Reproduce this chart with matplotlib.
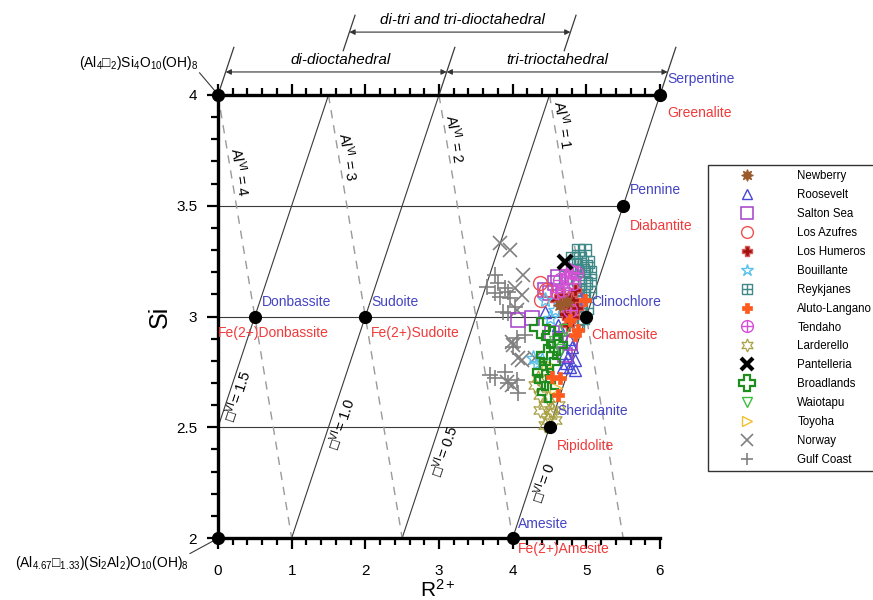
import matplotlib
matplotlib.use('Agg')
import matplotlib.pyplot as plt
from matplotlib.path import Path
from matplotlib.ticker import MultipleLocator

plt.rcParams['font.family'] = ['Liberation Sans', 'DejaVu Sans']
plt.rcParams['mathtext.fontset'] = 'custom'
plt.rcParams['mathtext.rm'] = 'Liberation Sans'
plt.rcParams['mathtext.it'] = 'Liberation Sans:italic'
plt.rcParams['mathtext.bf'] = 'Liberation Sans:bold'

# ---------------- data ----------------
# end-member points (R2+, Si)
em_R = [0, 6, 5.5, 0.5, 2, 5, 4.5, 0, 4]
em_Si = [4, 4, 3.5, 3, 3, 3, 2.5, 2, 2]
em_mg = [None, 'Serpentine', 'Pennine', 'Donbassite', 'Sudoite', 'Clinochlore', 'Sheridanite', None, 'Amesite']
em_fe = [None, 'Greenalite', 'Diabantite', 'Fe(2+)Donbassite', 'Fe(2+)Sudoite', 'Chamosite', 'Ripidolite', None, 'Fe(2+)Amesite']

# vacancy lines (solid)  endpoints R, Si
vac_levels = ['1.5', '1.0', '0.5', '0']
vac_R = [[0, 1.5], [1, 3], [2.5, 4.5], [4, 6]]
vac_Si = [[2.5, 4], [2, 4], [2, 4], [2, 4]]

# AlVI lines (dashed)
al_levels = ['4', '3', '2', '1']
al_R = [[0, 1], [1.5, 2.5], [3, 4], [4.5, 5.5]]
al_Si = [[4, 2], [4, 2], [4, 2], [4, 2]]

# horizontal Si lines
h_Si = [3.5, 3, 2.5]
h_Rmax = [5.5, 5, 4.5]

# scatter series
gulf_R = [3.76, 3.80, 3.89, 3.93, 3.76, 3.96, 3.83, 3.87, 3.93, 4.03, 3.65, 4.06, 4.00, 4.17, 3.76, 3.89, 3.93, 4.06, 4.07, 3.69]
gulf_Si = [3.187, 3.151, 3.129, 3.111, 3.106, 3.083, 3.088, 3.020, 3.016, 3.043, 3.133, 2.903, 2.862, 2.916, 2.722, 2.749, 2.700, 2.713, 2.655, 2.736]
norway_R = [3.83, 3.96, 4.14, 4.03, 4.12, 4.06, 3.99, 4.00, 4.07, 4.12, 4.30, 3.92, 3.99]
norway_Si = [3.332, 3.300, 3.187, 3.129, 3.097, 3.029, 2.885, 2.871, 2.813, 2.804, 2.813, 2.704, 2.691]
reyk_R = [4.885, 4.98, 4.91, 5.02, 4.84, 4.95, 5.05, 4.885, 4.99, 4.84, 4.95, 5.05, 4.91, 5.01, 4.95, 4.885, 5.05, 4.80, 4.71, 4.78, 4.92, 5.00]
reyk_Si = [3.300, 3.300, 3.264, 3.246, 3.233, 3.210, 3.200, 3.165, 3.151, 3.120, 3.097, 3.111, 3.052, 3.038, 2.993, 2.962, 3.165, 3.264, 3.178, 3.074, 3.120, 3.230]
tend_R = [4.80, 4.86, 4.75, 4.64, 4.82, 4.68, 4.78, 4.60, 4.72]
tend_Si = [3.200, 3.196, 3.178, 3.165, 3.151, 3.120, 3.029, 3.110, 3.215]
salton_R = [4.07, 4.26, 4.57, 4.50, 4.68, 4.53, 4.64, 4.78, 4.44, 4.84, 4.71, 4.62]
salton_Si = [2.984, 2.993, 3.151, 3.106, 3.097, 2.925, 2.894, 2.880, 3.120, 3.074, 2.826, 3.180]
azuf_R = [4.37, 4.38, 4.45]
azuf_Si = [3.151, 3.074, 3.120]
humer_R = [4.68, 4.78, 4.82, 4.74, 4.82, 4.59, 4.64, 4.75, 4.84, 4.70, 4.88]
humer_Si = [3.097, 3.088, 3.074, 3.043, 2.998, 3.074, 3.061, 2.962, 3.120, 3.010, 3.040]
newb_R = [4.74, 4.64]
newb_Si = [3.065, 3.050]
bouil_R = [4.44, 4.57, 4.33, 4.40, 4.27, 4.50]
bouil_Si = [3.074, 3.029, 2.790, 2.804, 2.813, 2.993]
roos_R = [4.71, 4.75, 4.73, 4.78, 4.68, 4.80, 4.84, 4.44, 4.61, 4.84, 4.76]
roos_Si = [2.835, 2.817, 2.790, 2.772, 2.772, 2.862, 2.804, 3.020, 2.962, 2.758, 2.900]
aluto_R = [4.78, 4.885, 4.53, 4.64, 4.84, 4.61, 4.98]
aluto_Si = [2.984, 2.940, 2.727, 2.722, 2.916, 2.646, 3.074]
broad_R = [4.37, 4.53, 4.46, 4.50, 4.41, 4.48, 4.60, 4.44]
broad_Si = [2.948, 2.907, 2.826, 2.795, 2.749, 2.659, 2.871, 2.713]
larder_R = [4.30, 4.37, 4.44, 4.50, 4.57, 4.44, 4.34, 4.48, 4.53, 4.37, 4.61, 4.48]
larder_Si = [2.691, 2.646, 2.600, 2.555, 2.533, 2.510, 2.722, 2.632, 2.578, 2.578, 2.600, 2.533]
waio_R = [4.64, 4.57, 4.71]
waio_Si = [2.849, 2.885, 2.940]
toyo_R = [4.48, 4.59]
toyo_Si = [2.781, 2.677]
pant_R = [4.71]
pant_Si = [3.246]

x_ticks = [0, 1, 2, 3, 4, 5, 6]
y_ticks = [2, 2.5, 3, 3.5, 4]
y_ticklabels = ['2', '2.5', '3', '3.5', '4']

# ---------------- figure ----------------
W, H = 873, 600
fig = plt.figure(figsize=(W / 100, H / 100), dpi=100)
ax = fig.add_axes([218 / W, 1 - 538 / H, (660 - 218) / W, (538 - 95) / H])
ax.set_xlim(0, 6)
ax.set_ylim(2, 4)

for s in ['left', 'bottom', 'top']:
    ax.spines[s].set_linewidth(2.4)
ax.spines['right'].set_visible(False)
ax.set_xticks(x_ticks)
ax.set_yticks(y_ticks)
ax.set_yticklabels(y_ticklabels)
ax.xaxis.set_minor_locator(MultipleLocator(0.2))
ax.yaxis.set_minor_locator(MultipleLocator(0.1))
ax.tick_params(axis='x', which='both', direction='out', top=True, labeltop=False, width=1.6, labelsize=11, pad=11)
ax.tick_params(axis='y', which='both', direction='out', right=False, width=1.6, labelsize=11, pad=7)
ax.tick_params(which='major', length=8)
ax.tick_params(which='minor', length=5)

fig.text(438 / W, 1 - 597 / H, 'R$^{2+}$', fontsize=15, ha='center', va='baseline')
ax.set_ylabel('Si', fontsize=18, labelpad=3)

line_col = '#3a3a3a'
# horizontal lines
for y, xm in zip(h_Si, h_Rmax):
    ax.plot([0, xm], [y, y], color=line_col, lw=0.8, zorder=1)
# vacancy lines
for lv, xs, ys in zip(vac_levels, vac_R, vac_Si):
    ax.plot(xs, ys, color=line_col, lw=0.8, zorder=1)
# AlVI dashed lines
for lv, xs, ys in zip(al_levels, al_R, al_Si):
    ax.plot(xs, ys, color='#9a9a9a', lw=1.0, ls=(0, (6, 5)), zorder=1)

# AlVI labels
al_lab_pos = [(0.30, 3.65), (1.76, 3.72), (3.22, 3.80), (4.69, 3.865)]
for lv, (x, y) in zip(al_levels, al_lab_pos):
    ax.text(x, y, 'Al$^{\\mathrm{VI}}$ = ' + lv, rotation=-81, fontsize=10.5,
            ha='center', va='center', rotation_mode='anchor')
# vacancy labels
vac_lab_pos = [(0.27, 2.64), (1.68, 2.515), (3.08, 2.395), (4.42, 2.25)]
for lv, (x, y) in zip(vac_levels, vac_lab_pos):
    ax.text(x, y, '\u25a1$^{\\mathrm{VI}}$= ' + lv, rotation=71.6, fontsize=10.5,
            ha='center', va='center', rotation_mode='anchor')

# end members
ax.plot(em_R, em_Si, 'o', color='black', ms=8.5, zorder=6, clip_on=False)
mg_off = {'Serpentine': (0.1, 0.07), 'Pennine': (0.09, 0.07), 'Donbassite': (0.1, 0.065),
          'Sudoite': (0.08, 0.065), 'Clinochlore': (0.07, 0.065), 'Sheridanite': (0.1, 0.075),
          'Amesite': (0.07, 0.063)}
fe_off = {'Greenalite': (0.1, -0.08), 'Diabantite': (0.09, -0.09), 'Fe(2+)Donbassite': (-0.5, -0.075),
          'Fe(2+)Sudoite': (0.08, -0.075), 'Chamosite': (0.07, -0.085), 'Ripidolite': (0.1, -0.085),
          'Fe(2+)Amesite': (0.07, -0.05)}
blue = '#4444C4'
red = '#F03A3A'
for r, s, m, f in zip(em_R, em_Si, em_mg, em_fe):
    if m:
        dx, dy = mg_off[m]
        ax.text(r + dx, s + dy, m, color=blue, fontsize=10, ha='left', va='center', clip_on=False, zorder=7)
    if f:
        dx, dy = fe_off[f]
        ax.text(r + dx, s + dy, f, color=red, fontsize=10, ha='left', va='center', clip_on=False, zorder=7)

# formula labels
ax.text(-0.27, 4.145, '(Al$_4$\u25a1$_2$)Si$_4$O$_{10}$(OH)$_8$', fontsize=10, ha='right', va='center', clip_on=False)
ax.plot([-0.25, -0.02], [4.10, 4.01], color=line_col, lw=0.8, clip_on=False)
ax.text(-0.40, 1.885, '(Al$_{4.67}$\u25a1$_{1.33}$)(Si$_2$Al$_2$)O$_{10}$(OH)$_8$', fontsize=10, ha='right', va='center', clip_on=False)
ax.plot([-0.38, -0.02], [1.93, 1.995], color=line_col, lw=0.8, clip_on=False)

# top region annotations
for r0 in [0, 3, 6]:
    ax.plot([r0, r0 + 0.215], [4, 4.215], color=line_col, lw=0.9, clip_on=False)
for r0 in [1.5, 4.5]:
    ax.plot([r0 + 0.2, r0 + 0.36], [4.2, 4.36], color=line_col, lw=0.9, clip_on=False)
arr = dict(arrowstyle='<|-|>', lw=0.8, color='#333333', shrinkA=0, shrinkB=0, mutation_scale=8)
ax.annotate('', xy=(3.104, 4.104), xytext=(0.104, 4.104), arrowprops=arr, annotation_clip=False)
ax.annotate('', xy=(6.104, 4.104), xytext=(3.104, 4.104), arrowprops=arr, annotation_clip=False)
ax.annotate('', xy=(4.784, 4.284), xytext=(1.784, 4.284), arrowprops=arr, annotation_clip=False)
ax.text(1.66, 4.16, 'di-dioctahedral', style='italic', fontsize=11, ha='center', va='center')
ax.text(4.60, 4.16, 'tri-trioctahedral', style='italic', fontsize=11, ha='center', va='center')
ax.text(3.32, 4.34, 'di-tri and tri-dioctahedral', style='italic', fontsize=11, ha='center', va='center')

# custom markers
M, L = Path.MOVETO, Path.LINETO
cross = Path([(-1, 0), (1, 0), (0, -1), (0, 1)], [M, L, M, L])
tendaho_marker = Path.make_compound_path(Path.unit_circle(), cross)
reyk_marker = Path([(-1, -1), (1, -1), (1, 1), (-1, 1), (-1, -1), (-1, 0), (1, 0), (0, -1), (0, 1)],
                   [M, L, L, L, L, M, L, M, L])

series = [
    ('Newberry', newb_R, newb_Si, dict(marker=(8, 1, 0), ms=10, mfc='#9A5A2C', mec='#9A5A2C', mew=0.8), 5),
    ('Roosevelt', roos_R, roos_Si, dict(marker='^', ms=9, mfc='none', mec='#4848D8', mew=1.0), 4),
    ('Salton Sea', salton_R, salton_Si, dict(marker='s', ms=10, mfc='none', mec='#A440C8', mew=1.1), 4),
    ('Los Azufres', azuf_R, azuf_Si, dict(marker='o', ms=10, mfc='none', mec='#EE5050', mew=1.0), 4),
    ('Los Humeros', humer_R, humer_Si, dict(marker='P', ms=9, mfc='#A01010', mec='#D85A5A', mew=1.0), 4),
    ('Bouillante', bouil_R, bouil_Si, dict(marker='*', ms=11, mfc='none', mec='#58C0EC', mew=1.0), 4),
    ('Reykjanes', reyk_R, reyk_Si, dict(marker=reyk_marker, ms=9, mfc='none', mec='#3F8A88', mew=1.0), 3),
    ('Aluto-Langano', aluto_R, aluto_Si, dict(marker='P', ms=8, mfc='#FF5A1E', mec='#FF5A1E', mew=0.5), 5),
    ('Tendaho', tend_R, tend_Si, dict(marker=tendaho_marker, ms=10, mfc='none', mec='#D450D4', mew=1.0), 4),
    ('Larderello', larder_R, larder_Si, dict(marker=(6, 1, 0), ms=11, mfc='none', mec='#A8A043', mew=0.9), 3.5),
    ('Pantelleria', pant_R, pant_Si, dict(marker='x', ms=10, mfc='none', mec='black', mew=3.0), 5),
    ('Broadlands', broad_R, broad_Si, dict(marker='P', ms=14, mfc='none', mec='#1E8C1E', mew=1.6), 4.5),
    ('Waiotapu', waio_R, waio_Si, dict(marker='v', ms=9, mfc='none', mec='#3CBE3C', mew=1.0), 4),
    ('Toyoha', toyo_R, toyo_Si, dict(marker='>', ms=9, mfc='none', mec='#F2C030', mew=1.0), 4),
    ('Norway', norway_R, norway_Si, dict(marker='x', ms=10, mfc='none', mec='#808080', mew=1.2), 2.5),
    ('Gulf Coast', gulf_R, gulf_Si, dict(marker='+', ms=11, mfc='none', mec='#808080', mew=1.2), 2.5),
]
handles = []
for name, xs, ys, kw, z in series:
    h, = ax.plot(xs, ys, linestyle='none', label=name, zorder=z, **kw)
    handles.append(h)

leg = fig.legend(handles=handles, loc='upper left', bbox_to_anchor=(708 / W, 1 - 165 / H),
                 frameon=True, fancybox=False, edgecolor='black', fontsize=8.3,
                 handlelength=5.8, handletextpad=1.5, labelspacing=0.6, borderpad=0.45,
                 borderaxespad=0, markerscale=0.85)
leg.get_frame().set_linewidth(1.0)

fig.savefig('out.png', dpi=100)
